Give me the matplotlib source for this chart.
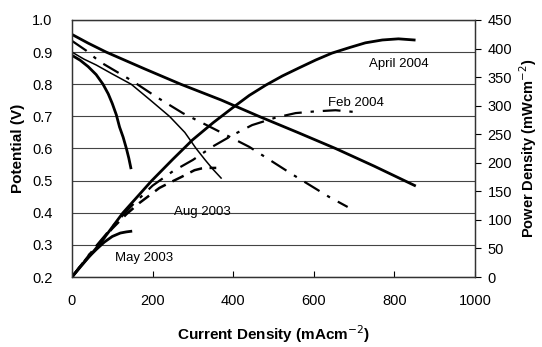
import numpy as np
import matplotlib.pyplot as plt

plt.rcParams['font.family'] = ['Liberation Sans', 'DejaVu Sans']

# polarization curves (current mA/cm2, potential V)
apr_i = [0, 40, 85, 180, 270, 370, 464, 560, 654, 750, 850]
apr_v = [0.955, 0.928, 0.9, 0.848, 0.8, 0.751, 0.7, 0.65, 0.6, 0.545, 0.485]
feb_i = [0, 35, 69, 150, 210, 275, 348, 440, 546, 637, 684]
feb_v = [0.935, 0.905, 0.87, 0.81, 0.76, 0.71, 0.664, 0.605, 0.52, 0.45, 0.418]
aug_i = [0, 30, 60, 100, 147, 195, 242, 280, 308, 330, 350, 370]
aug_v = [0.9, 0.878, 0.86, 0.832, 0.8, 0.75, 0.7, 0.65, 0.6, 0.565, 0.535, 0.508]
may_i = [0, 20, 40, 60, 77, 90, 100, 110, 118, 127, 135, 141, 146]
may_v = [0.89, 0.875, 0.855, 0.83, 0.8, 0.77, 0.74, 0.705, 0.667, 0.635, 0.6, 0.57, 0.54]

# power curves (current mA/cm2, power mW/cm2)
apr_pi = [0, 69, 126, 197, 250, 299, 350, 398, 440, 481, 522, 563, 605, 645, 690, 728, 770, 810, 849]
apr_p = [0, 58, 112, 168, 206, 240, 270, 296, 318, 336, 352, 366, 380, 392, 402, 410, 415, 417, 415]
feb_pi = [0, 50, 100, 150, 200, 250, 300, 348, 400, 447, 505, 555, 604, 654, 700]
feb_p = [0, 46, 88, 126, 160, 185, 205, 228, 249, 266, 279, 287, 290, 292, 289]
aug_pi = [0, 50, 100, 135, 168, 217, 242, 271, 304, 321, 340, 358]
aug_p = [0, 45, 85, 110, 130, 156, 165, 175, 187, 190, 191, 191]
may_pi = [0, 20, 40, 60, 80, 100, 120, 135, 146]
may_p = [0, 18, 34, 48, 61, 71, 77, 79, 80]

fig = plt.figure(figsize=(5.42, 3.47), dpi=100)
ax = fig.add_axes([0.1328, 0.2017, 0.7436, 0.7407])
ax2 = ax.twinx()

thick = 2.0
ax.plot(apr_i, apr_v, '-', color='black', lw=thick)
ax.plot(feb_i, feb_v, color='black', lw=1.6, dashes=(8, 4, 1.5, 4))
ax.plot(aug_i, aug_v, '-', color='black', lw=1.1)
ax.plot(may_i, may_v, '-', color='black', lw=thick)

ax2.plot(apr_pi, apr_p, '-', color='black', lw=thick)
ax2.plot(feb_pi, feb_p, color='black', lw=1.6, dashes=(8, 4, 1.5, 4))
ax2.plot(aug_pi, aug_p, color='black', lw=1.8, dashes=(5, 3))
ax2.plot(may_pi, may_p, '-', color='black', lw=thick)

ax.set_xlim(0, 1000)
ax.set_ylim(0.2, 1.0)
ax2.set_ylim(0, 450)
ax.set_xticks([0, 200, 400, 600, 800, 1000])
ax.set_yticks([0.2, 0.3, 0.4, 0.5, 0.6, 0.7, 0.8, 0.9, 1.0])
ax.set_yticklabels(['%.1f' % t for t in ax.get_yticks()])
ax2.set_yticks(np.arange(0, 451, 50))

ax.grid(True, axis='y', color='#444444', lw=0.8)
ax.tick_params(axis='x', direction='in', length=4, labelsize=10.5, pad=12, colors='black')
ax.tick_params(axis='y', length=0, labelsize=10.5, pad=14)
ax2.tick_params(axis='y', direction='out', length=4, labelsize=10.5, pad=5)

for a in (ax, ax2):
    for s in a.spines.values():
        s.set_color('#333333')
        s.set_linewidth(0.9)

ax.set_xlabel('Current Density (mAcm$^{-2}$)', fontsize=11, fontweight='bold', labelpad=11)
ax.set_ylabel('Potential (V)', fontsize=11, fontweight='bold', labelpad=5)
ax2.set_ylabel('Power Density (mWcm$^{-2}$)', fontsize=10.5, fontweight='bold', labelpad=4)

ax.text(810, 0.863, 'April 2004', fontsize=9.5, ha='center', va='center')
ax.text(704, 0.741, 'Feb 2004', fontsize=9.5, ha='center', va='center')
ax.text(323, 0.402, 'Aug 2003', fontsize=9.5, ha='center', va='center')
ax.text(180, 0.259, 'May 2003', fontsize=9.5, ha='center', va='center')

plt.savefig('out.png', dpi=100)
